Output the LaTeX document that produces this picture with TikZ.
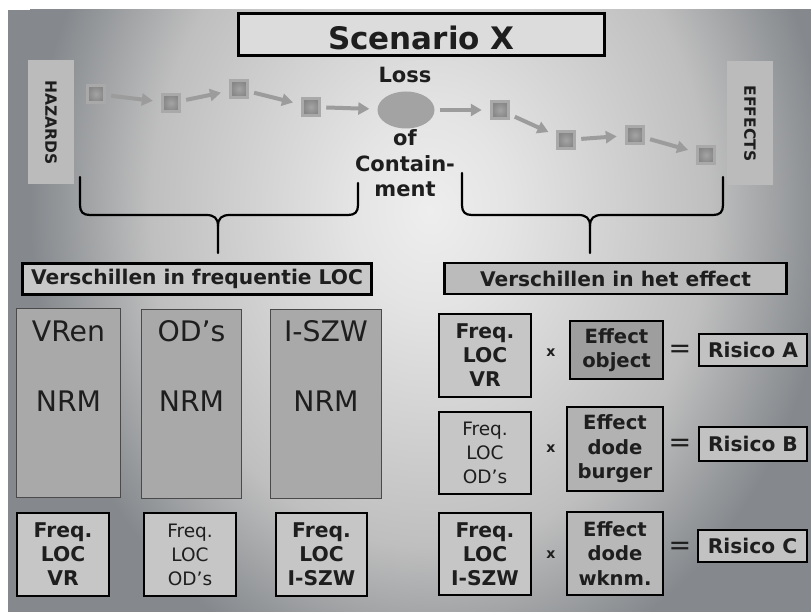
\documentclass[tikz,border=0pt]{standalone}
\usepackage{fontspec}
\setmainfont{DejaVu Sans}
\usetikzlibrary{arrows.meta,shapes.geometric}

\definecolor{ink}{HTML}{1E1E1E}
\definecolor{pnlA}{HTML}{EEEEEE}
\definecolor{pnlM}{HTML}{E4E4E4}
\definecolor{pnlB}{HTML}{BFBFBF}
\definecolor{pnlC}{HTML}{85898D}
\definecolor{titlefill}{HTML}{DCDCDC}
\definecolor{sidefill}{HTML}{BBBBBB}
\definecolor{chipedge}{HTML}{A9A9A9}
\definecolor{chipin}{HTML}{A4A4A4}
\definecolor{chipout}{HTML}{868686}
\definecolor{flowgray}{HTML}{9C9C9C}
\definecolor{locfill}{HTML}{A3A3A3}
\definecolor{verfillL}{HTML}{C8C8C8}
\definecolor{verfillR}{HTML}{BBBBBB}
\definecolor{colfill}{HTML}{A9A9A9}
\definecolor{coledge}{HTML}{4A4A4A}
\definecolor{freqfill}{HTML}{C6C6C6}
\definecolor{effA}{HTML}{9E9E9E}
\definecolor{effB}{HTML}{B2B2B2}
\definecolor{effC}{HTML}{B8B8B8}
\definecolor{riskfill}{HTML}{C2C2C2}

% soft light spot behind the diagram, fading to grey at the edges
\pgfdeclareradialshading{panelshade}{\pgfpoint{0bp}{0bp}}{%
  color(0bp)=(pnlA); color(5bp)=(pnlM); color(17.5bp)=(pnlB);
  color(25bp)=(pnlC); color(50bp)=(pnlC)}

\newcommand\setfs[2]{\fontsize{#1}{#2}\selectfont}

\begin{document}
\begin{tikzpicture}[x=1pt,y=-1pt,
  every node/.style={text=ink},
  boxline/.style={draw=black, line width=2.4pt, inner sep=0pt, align=center},
  titlebox/.style={boxline, fill=titlefill, minimum width=366pt, minimum height=42pt,
    font=\setfs{31}{36}\bfseries, text height=32pt, text depth=1pt},
  sidebox/.style={rotate=-90, fill=sidefill, minimum width=124pt, minimum height=46pt,
    inner sep=0pt, font=\setfs{15.5}{18}\bfseries},
  chip/.style={rectangle, minimum size=17pt, inner sep=0pt, draw=chipedge,
    line width=3.5pt, inner color=chipin, outer color=chipout},
  flow/.style={draw=flowgray, line width=4pt, -{Triangle[length=11pt,width=12pt]},
    shorten <=5pt, shorten >=8pt},
  locword/.style={font=\setfs{21}{25.5}\bfseries, align=center, inner sep=0pt},
  bracepen/.style={draw=black, line width=2.2pt, line cap=round, line join=round},
  verbox/.style={boxline, minimum height=31pt, font=\setfs{20.2}{24}\bfseries},
  colbox/.style={draw=coledge, line width=1.2pt, fill=colfill, minimum height=189pt,
    inner sep=0pt},
  colword/.style={font=\setfs{28.3}{32}, inner sep=0pt},
  freqbox/.style={boxline, fill=freqfill, minimum width=91.5pt, minimum height=82.5pt,
    font=\setfs{20.3}{24}\bfseries},
  freqthin/.style={freqbox, font=\setfs{18.5}{24}},
  effbox/.style={boxline, minimum width=94pt, font=\setfs{19.6}{24.5}\bfseries},
  riskbox/.style={boxline, fill=riskfill, minimum width=107.5pt, minimum height=31.5pt,
    font=\setfs{20.2}{24}\bfseries},
  times/.style={font=\setfs{14}{16}\bfseries, inner sep=0pt},
  equals/.style={font=\setfs{27}{30}, inner sep=0pt}
]
\useasboundingbox (0,0) rectangle (811,612);
\fill[white] (0,0) rectangle (811,612);
\begin{scope}
  \clip (8,10) rectangle (811,612);
  \fill[pnlC] (8,10) rectangle (811,612);
  \shade[shading=panelshade] (30,-270) rectangle (830,690);
\end{scope}

% title
\node[titlebox] (title) at (421.5,34.5) {Scenario X};

% hazards and effects
\node[sidebox] (haz) at (51,122.5) {HAZARDS};
\node[sidebox] (eff) at (750,123.5) {EFFECTS};

% event chain towards and away from the loss of containment
\node[chip] (c1) at (96,94) {};
\node[chip] (c2) at (171,103) {};
\node[chip] (c3) at (239,89) {};
\node[chip] (c4) at (311,107) {};
\node[ellipse, fill=locfill, minimum width=57pt, minimum height=37pt, inner sep=0pt] (loc) at (406,110) {};
\node[chip] (c5) at (500,110) {};
\node[chip] (c6) at (566,140) {};
\node[chip] (c7) at (635,135) {};
\node[chip] (c8) at (706,155) {};

\draw[flow] (c1) -- (c2);
\draw[flow] (c2) -- (c3);
\draw[flow] (c3) -- (c4);
\draw[flow] (c4) -- (loc);
\draw[flow] (loc) -- (c5);
\draw[flow] (c5) -- (c6);
\draw[flow] (c6) -- (c7);
\draw[flow] (c7) -- (c8);

\node[locword, anchor=base] (lossword) at (405,83) {Loss};
\node[locword, anchor=base] (ofword) at (405,197) {of\\Contain-\\ment};

% braces
\coordinate (lbL) at (80,177);
\coordinate (lbR) at (358,183);
\coordinate (lbT) at (218,253);
\draw[bracepen] (lbL) -- (80,205) .. controls (80,212) and (83,215) .. (90,215)
  -- (206,215) .. controls (214,215) and (218,218) .. (218,226) -- (lbT);
\draw[bracepen] (lbR) -- (358,205) .. controls (358,212) and (355,215) .. (348,215)
  -- (230,215) .. controls (222,215) and (218,218) .. (218,226);

\coordinate (rbL) at (462,173);
\coordinate (rbR) at (723,177);
\coordinate (rbT) at (590,253);
\draw[bracepen] (rbL) -- (462,205) .. controls (462,212) and (465,215) .. (472,215)
  -- (578,215) .. controls (586,215) and (590,218) .. (590,226) -- (rbT);
\draw[bracepen] (rbR) -- (723,205) .. controls (723,212) and (720,215) .. (713,215)
  -- (602,215) .. controls (594,215) and (590,218) .. (590,226);

% headings
\node[verbox, fill=verfillL, minimum width=349pt] (verL) at (197,279) {Verschillen in frequentie LOC};
\node[verbox, fill=verfillR, minimum width=342pt] (verR) at (615.5,278.5) {Verschillen in het effect};

% norm columns
\node[colbox, minimum width=104pt] (colA) at (68.5,403) {};
\node[colbox, minimum width=100pt] (colB) at (191.5,404) {};
\node[colbox, minimum width=111pt] (colC) at (326,404) {};
\node[colword] (colAname) at (68.5,331) {VRen};
\node[colword] (colBname) at (191.5,331) {OD’s};
\node[colword] (colCname) at (326,331) {I-SZW};
\node[colword] (colAnrm) at (68.5,401) {NRM};
\node[colword] (colBnrm) at (191.5,401) {NRM};
\node[colword] (colCnrm) at (326,401) {NRM};

% frequencies per party
\node[freqbox] (fqA) at (63,554.5) {Freq.\\LOC\\VR};
\node[freqthin] (fqB) at (190,554.5) {Freq.\\LOC\\OD’s};
\node[freqbox] (fqC) at (321.5,554.5) {Freq.\\LOC\\I-SZW};

% risk rows
\node[freqbox] (rfA) at (485,355.5) {Freq.\\LOC\\VR};
\node[times] (xA) at (551,353) {x};
\node[effbox, fill=effA, minimum width=92.5pt, minimum height=57.5pt] (efA) at (616.5,350) {Effect\\object};
\node[equals] (qA) at (680,351) {=};
\node[riskbox] (rkA) at (753,350) {Risico A};

\node[freqthin] (rfB) at (485,453) {Freq.\\LOC\\OD’s};
\node[times] (xB) at (551,449) {x};
\node[effbox, fill=effB, minimum width=95.5pt, minimum height=83.5pt] (efB) at (615,449) {Effect\\dode\\burger};
\node[equals] (qB) at (680,445) {=};
\node[riskbox, minimum height=33.5pt] (rkB) at (753,444) {Risico B};

\node[freqbox] (rfC) at (485,554) {Freq.\\LOC\\I-SZW};
\node[times] (xC) at (551,555) {x};
\node[effbox, fill=effC, minimum width=95.5pt, minimum height=82.5pt] (efC) at (615,553.5) {Effect\\dode\\wknm.};
\node[equals] (qC) at (680,548) {=};
\node[riskbox, minimum width=108.5pt] (rkC) at (752.5,546) {Risico C};
\end{tikzpicture}
\end{document}
